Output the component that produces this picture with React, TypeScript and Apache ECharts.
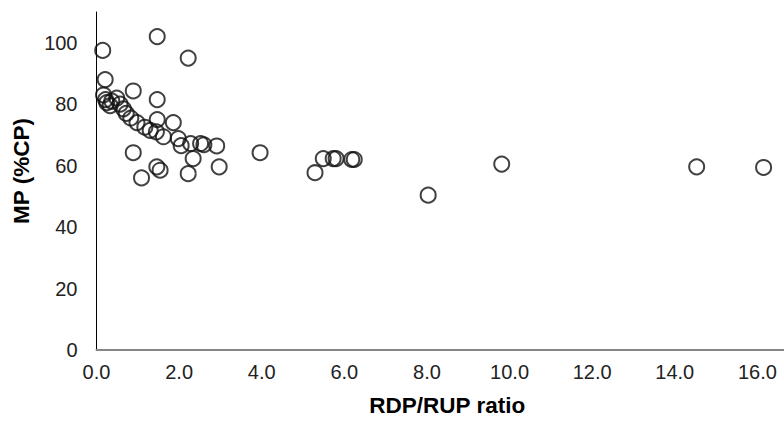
import React, { useEffect, useRef } from "react";
import * as echarts from "echarts";

const ratioValues: number[] = [
  0.15, 1.47, 2.22, 0.21, 0.89, 1.47, 0.17, 0.22, 0.25, 0.37, 0.49, 0.57, 0.33,
  0.65, 0.72, 0.83, 0.98, 1.17, 1.3, 1.47, 1.86, 1.45, 1.62, 1.98, 2.05, 2.28,
  2.52, 2.6, 2.91, 3.96, 0.89, 2.34, 1.46, 1.54, 2.97, 1.09, 2.22, 5.29, 5.49,
  5.73, 5.8, 6.18, 6.24, 8.03, 9.81, 14.53, 16.15,
];
const mpValues: number[] = [
  97.5, 102, 95, 88, 84.3, 81.5, 83, 81.5, 80.5, 81, 82, 80, 79.5, 78.5, 77,
  75.5, 74, 72.5, 71.5, 75, 74, 71, 69.4, 68.8, 66.5, 67.2, 67.2, 66.8, 66.4,
  64.2, 64.2, 62.3, 59.6, 58.5, 59.6, 56.0, 57.4, 57.7, 62.3, 62.3, 62.3, 62.0,
  62.0, 50.4, 60.5, 59.6, 59.4,
];
const xAxisTitle = "RDP/RUP ratio";
const yAxisTitle = "MP (%CP)";

export default function App() {
  const ref = useRef<HTMLDivElement>(null);
  useEffect(() => {
    if (!ref.current) return;
    const chart = echarts.init(ref.current, undefined, { renderer: "svg" });
    const data = ratioValues.map((x, i) => [x, mpValues[i]]);
    chart.setOption({
      animation: false,
      backgroundColor: "#ffffff",
      grid: {
        left: 96.5,
        top: 12,
        bottom: 71,
        right: -56,
        containLabel: false,
        outerBoundsMode: "none",
      },
      xAxis: {
        type: "value",
        min: 0,
        max: 18,
        interval: 2,
        name: xAxisTitle,
        nameLocation: "middle",
        nameGap: 44,
        nameTextStyle: {
          fontFamily: "Liberation Sans",
          fontSize: 22.5,
          fontWeight: "bold",
          color: "#000",
          padding: [0, 42, 0, 0],
        },
        axisLine: { show: true, lineStyle: { color: "#868686", width: 2 } },
        axisTick: { show: false },
        splitLine: { show: false },
        axisLabel: {
          fontFamily: "Liberation Sans",
          fontSize: 20,
          color: "#222",
          margin: 12,
          formatter: (v: number) => (v > 16 ? "" : v.toFixed(1)),
        },
      },
      yAxis: {
        type: "value",
        min: 0,
        max: 110,
        interval: 20,
        name: yAxisTitle,
        nameLocation: "middle",
        nameGap: 57,
        nameRotate: 90,
        nameTextStyle: {
          fontFamily: "Liberation Sans",
          fontSize: 22.5,
          fontWeight: "bold",
          color: "#000",
          padding: [0, 0, 0, 20],
        },
        axisLine: { show: true, lineStyle: { color: "#000", width: 1 } },
        axisTick: { show: false },
        splitLine: { show: false },
        axisLabel: {
          fontFamily: "Liberation Sans",
          fontSize: 20,
          color: "#222",
          margin: 19,
          formatter: (v: number) => (v > 100 ? "" : String(v)),
        },
      },
      series: [
        {
          type: "scatter",
          data,
          symbol: "circle",
          symbolSize: 15,
          itemStyle: {
            color: "rgba(255,255,255,0)",
            borderColor: "#111",
            borderWidth: 2,
          },
        },
      ],
    });
    return () => chart.dispose();
  }, []);
  return (
    <div
      ref={ref}
      style={{ position: "fixed", left: 0, top: 0, width: 784, height: 421 }}
    />
  );
}
